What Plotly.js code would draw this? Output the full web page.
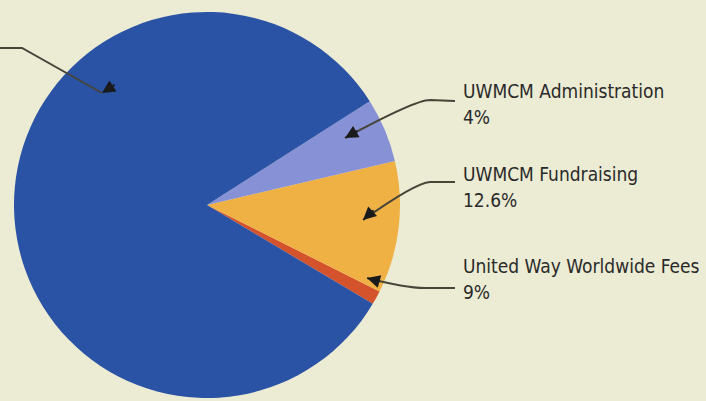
<!DOCTYPE html>
<html><head><meta charset="utf-8">
<script src="https://cdn.plot.ly/plotly-3.0.1.min.js"></script>
<style>html,body{margin:0;padding:0;background:#ECEBD3;}#chart{width:706px;height:401px;}</style>
</head><body><div id="chart"></div>
<script>
// Slice values (estimated from the drawn angles)
const categories = ["United Way Worldwide Fees", "UWMCM Fundraising", "UWMCM Administration", "Programs"];
const values = [1.17, 11.06, 5.36, 82.41];
const sliceColors = ["#D4522C", "#EFB044", "#8791D6", "#2A53A5"];
// Label texts as printed on the chart
const labelNames = ["UWMCM Administration", "UWMCM Fundraising", "United Way Worldwide Fees"];
const labelPcts = ["4%", "12.6%", "9%"];

const W = 706, H = 401;
const px = x => x / W, py = y => 1 - y / H;

const trace = {
  type: "pie", labels: categories, values: values, sort: false,
  direction: "counterclockwise", rotation: 116.6,
  marker: {colors: sliceColors, line: {width: 0}},
  textinfo: "none", hoverinfo: "label+percent", showlegend: false,
  domain: {x: [px(14), px(400)], y: [3 / H, 389 / H]}
};

const textFont = {family: "DejaVu Sans Condensed, DejaVu Sans, sans-serif", size: 19, color: "#2a2a2a"};
const labelPos = [[463, 91], [463, 174], [463, 266]];
const annotations = [];
labelNames.forEach((n, i) => {
  annotations.push({xref: "paper", yref: "paper", x: px(labelPos[i][0] - 2), y: py(labelPos[i][1]),
    xanchor: "left", yanchor: "middle", showarrow: false, text: n, font: textFont});
  annotations.push({xref: "paper", yref: "paper", x: px(labelPos[i][0] - 2), y: py(labelPos[i][1] + 26),
    xanchor: "left", yanchor: "middle", showarrow: false, text: labelPcts[i], font: textFont});
});
// arrow heads
const heads = [[345, 138, -14, -8], [363, 220, -12, -11], [367, 278, -14, 4], [102, 93, -14, -9]];
heads.forEach(h => annotations.push({xref: "paper", yref: "paper", x: px(h[0]), y: py(h[1]),
  ax: -h[2], ay: h[3], text: "", showarrow: true, arrowhead: 2, arrowsize: 1.3, arrowwidth: 2, arrowcolor: "#1a1a1a"}));

const lineStyle = {color: "#45453a", width: 2};
const shapes = [
  {type: "path", xref: "paper", yref: "paper", line: lineStyle,
   path: `M ${px(455)} ${py(101)} L ${px(430)} ${py(100)} Q ${px(415)} ${py(100)} ${px(345)} ${py(138)}`},
  {type: "path", xref: "paper", yref: "paper", line: lineStyle,
   path: `M ${px(455)} ${py(182)} L ${px(430)} ${py(182)} Q ${px(415)} ${py(183)} ${px(363)} ${py(220)}`},
  {type: "path", xref: "paper", yref: "paper", line: lineStyle,
   path: `M ${px(455)} ${py(288)} L ${px(425)} ${py(288)} Q ${px(405)} ${py(288)} ${px(367)} ${py(278)}`},
  {type: "path", xref: "paper", yref: "paper", line: lineStyle,
   path: `M ${px(0)} ${py(48)} L ${px(22)} ${py(48)} L ${px(102)} ${py(93)}`}
];

Plotly.newPlot("chart", [trace], {
  width: W, height: H, margin: {l: 0, r: 0, t: 0, b: 0},
  paper_bgcolor: "#ECEBD3", plot_bgcolor: "#ECEBD3",
  annotations: annotations, shapes: shapes
}, {displayModeBar: false, staticPlot: true});
</script></body></html>
